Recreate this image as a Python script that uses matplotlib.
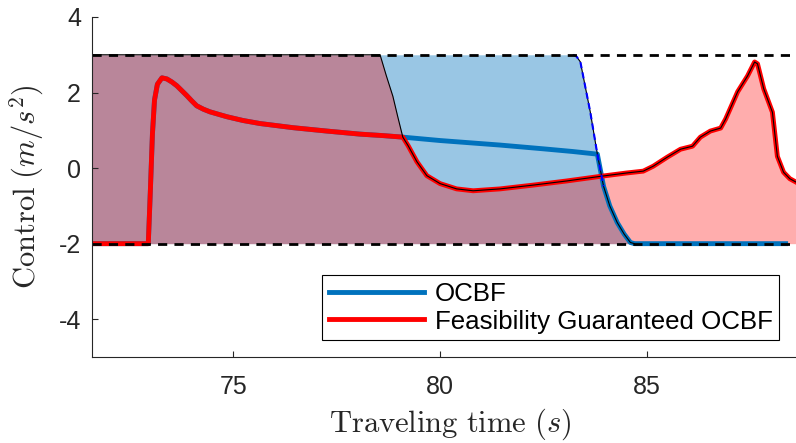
import numpy as np
import matplotlib.pyplot as plt

plt.rcParams['font.family'] = ['Liberation Sans', 'DejaVu Sans']
plt.rcParams['mathtext.fontset'] = 'cm'
plt.rcParams['axes.unicode_minus'] = False

u_max = 3.0
u_min = -2.0

# feasibility guaranteed OCBF control
t_fg = np.array([71.5, 72.95, 73.00, 73.05, 73.10, 73.17, 73.28, 73.40, 73.52, 73.64,
                 73.76, 73.88, 74.00, 74.12, 74.28, 74.44, 74.85, 75.24, 75.65,
                 76.45, 77.27, 78.06, 78.63, 79.10,
                 79.23, 79.44, 79.68, 80.00, 80.40, 80.80, 81.45, 82.25, 83.06, 83.86,
                 84.50, 84.91, 85.15, 85.49, 85.81, 86.10, 86.29, 86.53, 86.78, 86.90,
                 87.19, 87.43, 87.60, 87.67, 87.82, 88.03, 88.15, 88.30, 88.45, 88.65])
u_fg = np.array([-2.0, -2.0, -0.6, 0.9, 1.8, 2.22, 2.39, 2.36, 2.28, 2.18,
                 2.05, 1.92, 1.78, 1.65, 1.56, 1.49, 1.36, 1.26, 1.18,
                 1.07, 0.98, 0.90, 0.86, 0.82,
                 0.59, 0.17, -0.20, -0.41, -0.55, -0.60, -0.55, -0.45, -0.34, -0.22,
                 -0.13, -0.08, 0.05, 0.29, 0.50, 0.58, 0.82, 0.98, 1.06, 1.30,
                 2.02, 2.44, 2.81, 2.76, 2.10, 1.48, 0.31, -0.11, -0.28, -0.40])

# upper bound of the feasible set for the FG-OCBF control before it gets active
fg_bound_t = np.array([71.5, 78.55, 78.70, 78.86, 78.98, 79.10])
fg_bound_u = np.array([3.0, 3.0, 2.45, 1.9, 1.35, 0.82])

# upper bound of the OCBF feasible set
oc_bound_t = np.array([71.5, 83.22, 83.30, 83.39, 83.50, 83.63, 83.80, 83.95, 84.10,
                       84.28, 84.45, 84.60, 84.70])
oc_bound_u = np.array([3.0, 3.0, 2.95, 2.81, 2.2, 1.48, 0.37, -0.48, -1.0,
                       -1.44, -1.75, -1.97, -2.0])

# OCBF control after it leaves the FG-OCBF curve
oc_mid_t = np.array([80.0, 81.45, 82.5, 83.2])
oc_mid_u = np.array([0.73, 0.61, 0.51, 0.44])
oc_end_t = 88.35

head = t_fg <= 79.10
desc = oc_bound_t >= 83.80
t_oc = np.concatenate([t_fg[head], oc_mid_t, oc_bound_t[desc], [oc_end_t]])
u_oc = np.concatenate([u_fg[head], oc_mid_u, oc_bound_u[desc], [u_min]])

fill_t = np.concatenate([fg_bound_t[:-1], t_fg[t_fg >= 79.10]])
fill_u = np.concatenate([fg_bound_u[:-1], u_fg[t_fg >= 79.10]])

blue = (0, 0.447, 0.741)
red = (1, 0, 0)
dark = '#262626'

fig = plt.figure(figsize=(7.96, 4.43), dpi=100)
ax = fig.add_axes([92 / 796, 86 / 443, 704 / 796, 340 / 443])

ax.fill_between(oc_bound_t, u_min, oc_bound_u, color=blue, alpha=0.4, lw=0)
ax.plot(t_oc, u_oc, color=blue, lw=3.5, label='OCBF')
ax.plot(t_fg, u_fg, color=red, lw=3.5, label='Feasibility Guaranteed OCBF')
ax.fill_between(fill_t, u_min, fill_u, color=red, alpha=0.32, lw=0)

ax.plot(fill_t, fill_u, color='k', lw=0.8)
ax.plot(oc_bound_t[1:], oc_bound_u[1:], color='k', lw=0.8)
ax.plot(oc_bound_t[1:8], oc_bound_u[1:8], color='b', lw=1.5, dashes=(3, 2))

ax.axhline(u_max, color='k', lw=2, dashes=(3.3, 2.6))
ax.axhline(u_min, color='k', lw=2, dashes=(3.3, 2.6))

ax.set_xlim(71.59, 88.6)
ax.set_ylim(-5, 4)
ax.set_xticks([75, 80, 85])
ax.set_yticks([-4, -2, 0, 2, 4])

for s in ['top', 'right']:
    ax.spines[s].set_visible(False)
for s in ['left', 'bottom']:
    ax.spines[s].set_color(dark)
    ax.spines[s].set_linewidth(0.8)

ax.tick_params(direction='in', length=4, width=0.8, colors=dark, labelsize=18)
ax.tick_params(axis='x', pad=13)
ax.tick_params(axis='y', pad=8)

ax.set_xlabel(r'$\mathrm{Traveling\ time\ }(s)$', fontsize=22, color=dark)
ax.xaxis.set_label_coords(0.509, -0.145)
ax.set_ylabel(r'$\mathrm{Control\ }(m/s^2)$', fontsize=22, color=dark)
ax.yaxis.set_label_coords(-0.066, 0.5)

leg = ax.legend(loc='lower right', bbox_to_anchor=(0.976, 0.05), fontsize=18.6,
                fancybox=False, edgecolor='k', framealpha=1, handlelength=3.7,
                handletextpad=0.4, labelspacing=0.15, borderpad=0.25, borderaxespad=0)
leg.get_frame().set_linewidth(0.8)

fig.savefig('out.png', dpi=100)
